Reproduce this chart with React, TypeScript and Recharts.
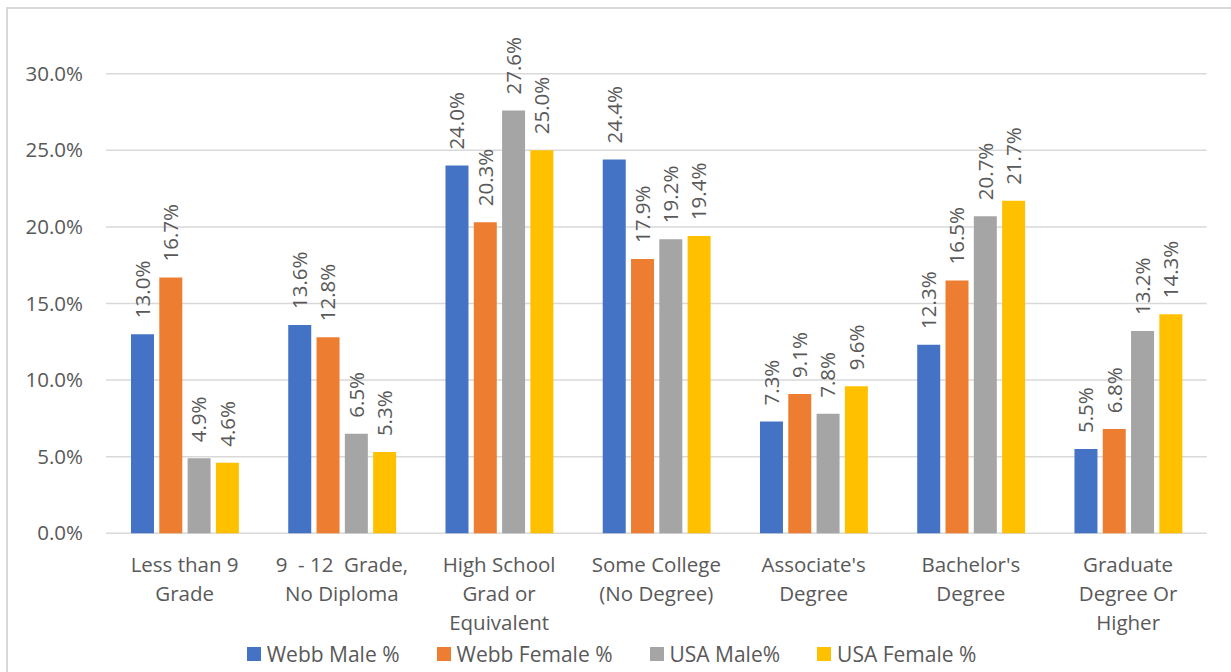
import React from 'react';
import { BarChart, Bar, XAxis, YAxis, CartesianGrid, Legend, LabelList } from 'recharts';

// Educational attainment by category, percent of population
const categories = [
  'Less than 9\nGrade',
  '9  - 12  Grade,\nNo Diploma',
  'High School\nGrad or\nEquivalent',
  'Some College\n(No Degree)',
  "Associate's\nDegree",
  "Bachelor's\nDegree",
  'Graduate\nDegree Or\nHigher',
];
const webbMale = [13.0, 13.6, 24.0, 24.4, 7.3, 12.3, 5.5];
const webbFemale = [16.7, 12.8, 20.3, 17.9, 9.1, 16.5, 6.8];
const usaMale = [4.9, 6.5, 27.6, 19.2, 7.8, 20.7, 13.2];
const usaFemale = [4.6, 5.3, 25.0, 19.4, 9.6, 21.7, 14.3];
const yTicks = [0, 5, 10, 15, 20, 25, 30];

const seriesNames = ['Webb Male %', 'Webb Female %', 'USA Male%', 'USA Female %'];
const seriesKeys = ['webbMale', 'webbFemale', 'usaMale', 'usaFemale'];
const seriesColors = ['#4472C4', '#ED7D31', '#A5A5A5', '#FFC000'];

const data = categories.map((c, i) => ({
  name: c,
  webbMale: webbMale[i],
  webbFemale: webbFemale[i],
  usaMale: usaMale[i],
  usaFemale: usaFemale[i],
}));

const FONT = '"Open Sans", "DejaVu Sans", sans-serif';
const TEXT = '#595959';
const FS = 20.5;

const fmt = (v: number) => `${Number(v).toFixed(1)}%`;

const XTick = (props: any) => {
  const { x, y, payload } = props;
  const lines = String(payload.value).split('\n');
  return (
    <g>
      {lines.map((ln, i) => (
        <text
          key={i}
          x={x}
          y={y + 31 + i * 29}
          textAnchor="middle"
          fill={TEXT}
          fontSize={FS}
          fontFamily={FONT}
          style={{ whiteSpace: 'pre' }}
        >
          {ln}
        </text>
      ))}
    </g>
  );
};

const YTick = (props: any) => {
  const { x, y, payload } = props;
  return (
    <text x={x} y={y + 7} textAnchor="end" fill={TEXT} fontSize={FS} fontFamily={FONT}>
      {fmt(payload.value)}
    </text>
  );
};

const RotLabel = (props: any) => {
  const { x, y, width, value } = props;
  const cx = Number(x) + Number(width) / 2 + 7.3;
  const cy = Number(y) - 16;
  return (
    <text
      x={cx}
      y={cy}
      transform={`rotate(-90 ${cx} ${cy})`}
      textAnchor="start"
      fill={TEXT}
      fontSize={FS}
      fontFamily={FONT}
    >
      {fmt(value)}
    </text>
  );
};

const LegendContent = () => (
  <div
    style={{
      display: 'flex',
      justifyContent: 'center',
      alignItems: 'center',
      height: 32,
      paddingBottom: 4,
      paddingRight: 8,
      boxSizing: 'border-box',
      fontFamily: FONT,
      fontSize: 21,
      color: TEXT,
    }}
  >
    {seriesNames.map((n, i) => (
      <div key={n} style={{ display: 'flex', alignItems: 'center', marginRight: i < 3 ? 37 : 0 }}>
        <span style={{ width: 14, height: 14, background: seriesColors[i], marginRight: 6, display: 'inline-block' }} />
        <span style={{ whiteSpace: 'pre' }}>{n}</span>
      </div>
    ))}
  </div>
);

export default function App() {
  return (
    <div style={{ position: 'absolute', left: 0, top: 0, width: 1231, height: 672, overflow: 'hidden', background: '#fff' }}>
      <div
        style={{
          position: 'absolute',
          left: 6,
          top: 7,
          width: 1260,
          height: 700,
          border: '2px solid #d9d9d9',
          boxSizing: 'border-box',
        }}
      />
      <BarChart
        width={1231}
        height={672}
        data={data}
        margin={{ top: 73.7, right: 24.3, left: 0, bottom: 0 }}
        barSize={23}
        barGap={5.3}
      >
        <CartesianGrid vertical={false} stroke="#d9d9d9" strokeWidth={1.5} />
        <XAxis
          dataKey="name"
          height={106.7}
          tickLine={false}
          axisLine={false}
          interval={0}
          tick={<XTick />}
        />
        <YAxis
          width={106}
          domain={[0, 30]}
          ticks={yTicks}
          tickLine={false}
          axisLine={false}
          tickSize={6}
          tickMargin={17}
          tick={<YTick />}
          interval={0}
        />
        <Legend verticalAlign="bottom" height={32} content={<LegendContent />} wrapperStyle={{ left: 0, width: 1231 }} />
        {seriesKeys.map((k, i) => (
          <Bar key={k} dataKey={k} name={seriesNames[i]} fill={seriesColors[i]} isAnimationActive={false}>
            <LabelList dataKey={k} content={<RotLabel />} />
          </Bar>
        ))}
      </BarChart>
    </div>
  );
}
